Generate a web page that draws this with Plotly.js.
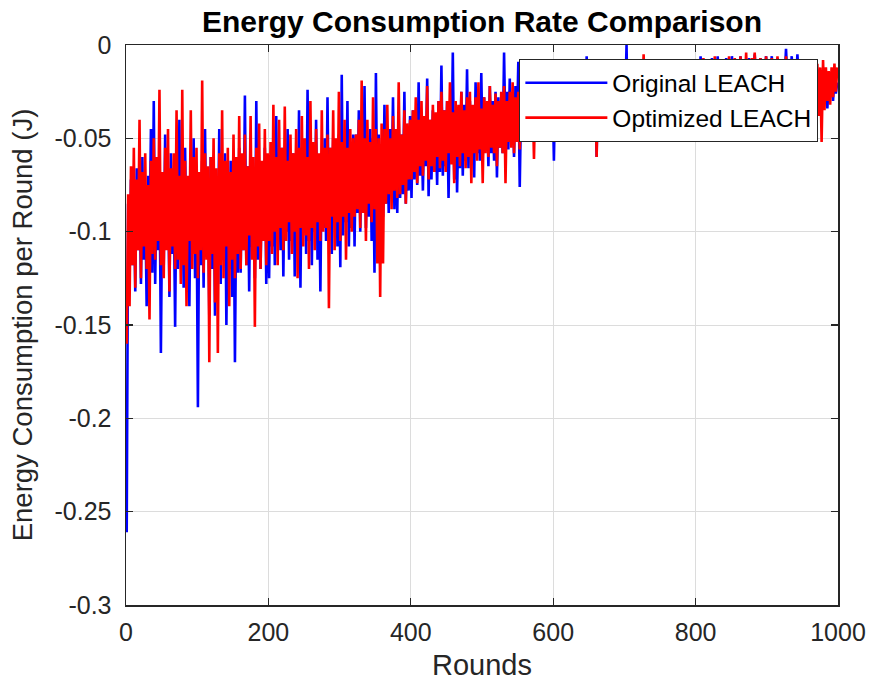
<!DOCTYPE html>
<html>
<head>
<meta charset="utf-8">
<script src="https://cdn.plot.ly/plotly-3.0.1.min.js"></script>
<style>html,body{margin:0;padding:0;background:#fff;}#chart{width:875px;height:684px;}</style>
</head>
<body>
<div id="chart"></div>
<script>
// Energy consumption per round (J), sampled every 2 rounds starting at round 1
const originalLEACH = [
-0.261,-0.085,-0.125,-0.072,-0.118,-0.080,-0.132,-0.066,-0.110,-0.075,-0.128,-0.060,-0.115,-0.082,-0.140,-0.070,-0.108,-0.045,-0.122,-0.030,
-0.128,-0.070,-0.110,-0.062,-0.165,-0.078,-0.118,-0.048,-0.105,-0.072,-0.135,-0.058,-0.112,-0.080,-0.151,-0.066,-0.120,-0.040,-0.108,-0.075,
-0.130,-0.055,-0.115,-0.075,-0.140,-0.068,-0.108,-0.050,-0.125,-0.078,-0.194,-0.070,-0.118,-0.062,-0.130,-0.045,-0.112,-0.072,-0.145,-0.060,
-0.120,-0.065,-0.145,-0.075,-0.110,-0.045,-0.128,-0.070,-0.115,-0.058,-0.150,-0.072,-0.120,-0.062,-0.135,-0.068,-0.170,-0.075,-0.122,-0.055,
-0.122,-0.068,-0.110,-0.027,-0.118,-0.065,-0.132,-0.058,-0.108,-0.072,-0.125,-0.030,-0.115,-0.062,-0.120,-0.070,-0.105,-0.055,-0.128,-0.068,
-0.125,-0.060,-0.108,-0.050,-0.118,-0.038,-0.102,-0.065,-0.110,-0.055,-0.124,-0.062,-0.100,-0.045,-0.115,-0.068,-0.105,-0.058,-0.124,-0.060,
-0.105,-0.035,-0.130,-0.060,-0.098,-0.052,-0.112,-0.024,-0.105,-0.062,-0.118,-0.055,-0.100,-0.040,-0.115,-0.065,-0.132,-0.058,-0.098,-0.050,
-0.105,-0.028,-0.098,-0.055,-0.112,-0.050,-0.095,-0.060,-0.108,-0.048,-0.119,-0.016,-0.102,-0.055,-0.095,-0.030,-0.108,-0.058,-0.098,-0.048,
-0.108,-0.048,-0.090,-0.035,-0.100,-0.052,-0.088,-0.022,-0.098,-0.055,-0.092,-0.045,-0.105,-0.050,-0.122,-0.015,-0.092,-0.048,-0.088,-0.055,
-0.092,-0.032,-0.085,-0.050,-0.090,-0.045,-0.078,-0.028,-0.088,-0.052,-0.090,-0.040,-0.082,-0.048,-0.080,-0.025,-0.085,-0.045,-0.078,-0.038,
-0.082,-0.035,-0.072,-0.040,-0.075,-0.020,-0.070,-0.042,-0.078,-0.038,-0.065,-0.018,-0.081,-0.040,-0.072,-0.035,-0.068,-0.044,-0.075,-0.030,
-0.068,-0.011,-0.070,-0.035,-0.065,-0.030,-0.082,-0.038,-0.062,-0.004,-0.072,-0.035,-0.079,-0.040,-0.066,-0.025,-0.070,-0.032,-0.062,-0.013,
-0.066,-0.030,-0.060,-0.035,-0.071,-0.020,-0.058,-0.032,-0.062,-0.015,-0.060,-0.028,-0.055,-0.034,-0.065,-0.022,-0.058,-0.030,-0.062,-0.025,
-0.071,-0.028,-0.055,-0.030,-0.058,-0.004,-0.050,-0.025,-0.056,-0.018,-0.052,-0.030,-0.060,-0.022,-0.048,-0.009,-0.076,-0.028,-0.050,-0.020,
-0.048,-0.022,-0.050,-0.025,-0.045,-0.012,-0.048,-0.028,-0.042,-0.018,-0.050,-0.025,-0.044,-0.020,-0.046,-0.012,-0.042,-0.026,-0.048,-0.022,
-0.062,-0.018,-0.040,-0.015,-0.038,-0.020,-0.042,-0.010,-0.036,-0.022,-0.040,-0.018,-0.035,-0.008,-0.042,-0.020,-0.038,-0.015,-0.036,-0.008,
-0.036,-0.018,-0.034,-0.006,-0.040,-0.018,-0.035,-0.015,-0.038,-0.020,-0.060,-0.016,-0.034,-0.012,-0.036,-0.018,-0.032,-0.014,-0.038,-0.016,
-0.035,-0.014,-0.032,-0.016,-0.038,-0.012,-0.030,-0.014,-0.034,-0.016,-0.032,0.000,-0.051,-0.015,-0.032,-0.010,-0.030,-0.016,-0.032,-0.012,
-0.030,-0.010,-0.028,-0.014,-0.035,-0.012,-0.028,-0.008,-0.030,-0.014,-0.032,-0.011,-0.028,-0.015,-0.030,-0.010,-0.027,-0.013,-0.030,-0.011,
-0.028,-0.012,-0.032,-0.009,-0.026,-0.013,-0.027,-0.010,-0.025,-0.012,-0.028,-0.010,-0.026,-0.013,-0.025,-0.009,-0.027,-0.012,-0.025,-0.011,
-0.025,-0.010,-0.022,-0.006,-0.022,-0.010,-0.028,-0.008,-0.020,-0.010,-0.024,-0.007,-0.021,-0.010,-0.022,-0.006,-0.020,-0.009,-0.024,-0.008,
-0.024,-0.007,-0.020,-0.009,-0.022,-0.006,-0.019,-0.010,-0.025,-0.008,-0.020,-0.006,-0.022,-0.009,-0.019,-0.008,-0.021,-0.007,-0.025,-0.009,
-0.020,-0.005,-0.020,-0.008,-0.018,-0.007,-0.022,-0.008,-0.018,-0.006,-0.020,-0.009,-0.018,-0.006,-0.022,-0.008,-0.019,-0.007,-0.021,-0.009,
-0.020,-0.008,-0.018,-0.002,-0.020,-0.008,-0.018,-0.006,-0.022,-0.009,-0.020,-0.005,-0.019,-0.008,-0.022,-0.010,-0.025,-0.012,-0.028,-0.014,
-0.030,-0.015,-0.032,-0.018,-0.035,-0.020,-0.030,-0.016,-0.036,-0.020,-0.030,-0.018,-0.034,-0.022,-0.028,-0.015,-0.030,-0.018,-0.026,-0.020
];

const optimizedLEACH = [
-0.160,-0.080,-0.140,-0.065,-0.118,-0.055,-0.130,-0.072,-0.110,-0.040,-0.125,-0.068,-0.108,-0.058,-0.120,-0.075,-0.147,-0.062,-0.112,-0.050,
-0.115,-0.060,-0.105,-0.024,-0.118,-0.068,-0.125,-0.055,-0.110,-0.045,-0.132,-0.066,-0.108,-0.058,-0.120,-0.035,-0.115,-0.070,-0.128,-0.024,
-0.118,-0.062,-0.140,-0.070,-0.105,-0.035,-0.120,-0.060,-0.112,-0.055,-0.125,-0.068,-0.110,-0.019,-0.122,-0.058,-0.115,-0.065,-0.170,-0.060,
-0.112,-0.050,-0.138,-0.066,-0.165,-0.058,-0.118,-0.035,-0.125,-0.062,-0.108,-0.055,-0.140,-0.068,-0.115,-0.048,-0.125,-0.060,-0.112,-0.038,
-0.120,-0.058,-0.110,-0.048,-0.118,-0.065,-0.102,-0.038,-0.115,-0.060,-0.151,-0.055,-0.108,-0.042,-0.120,-0.062,-0.105,-0.045,-0.118,-0.058,
-0.105,-0.052,-0.112,-0.032,-0.100,-0.060,-0.118,-0.040,-0.098,-0.055,-0.110,-0.033,-0.105,-0.062,-0.095,-0.048,-0.112,-0.058,-0.100,-0.045,
-0.125,-0.055,-0.098,-0.038,-0.108,-0.050,-0.102,-0.060,-0.120,-0.030,-0.098,-0.052,-0.110,-0.045,-0.095,-0.058,-0.105,-0.035,-0.100,-0.055,
-0.098,-0.048,-0.141,-0.055,-0.092,-0.035,-0.110,-0.050,-0.095,-0.025,-0.105,-0.052,-0.092,-0.040,-0.115,-0.055,-0.090,-0.045,-0.100,-0.050,
-0.092,-0.048,-0.088,-0.040,-0.098,-0.019,-0.090,-0.050,-0.105,-0.040,-0.085,-0.052,-0.095,-0.028,-0.088,-0.045,-0.117,-0.050,-0.135,-0.042,
-0.117,-0.045,-0.085,-0.032,-0.080,-0.050,-0.088,-0.038,-0.078,-0.045,-0.082,-0.020,-0.080,-0.048,-0.075,-0.035,-0.085,-0.042,-0.072,-0.040,
-0.072,-0.035,-0.068,-0.028,-0.074,-0.040,-0.065,-0.030,-0.070,-0.038,-0.062,-0.022,-0.072,-0.040,-0.065,-0.032,-0.068,-0.036,-0.060,-0.030,
-0.066,-0.025,-0.062,-0.035,-0.068,-0.030,-0.058,-0.020,-0.064,-0.036,-0.074,-0.030,-0.060,-0.032,-0.065,-0.025,-0.058,-0.035,-0.066,-0.028,
-0.060,-0.025,-0.074,-0.032,-0.058,-0.028,-0.062,-0.020,-0.056,-0.034,-0.074,-0.028,-0.058,-0.030,-0.060,-0.022,-0.055,-0.032,-0.058,-0.026,
-0.065,-0.030,-0.055,-0.025,-0.058,-0.022,-0.074,-0.030,-0.052,-0.025,-0.055,-0.020,-0.058,-0.028,-0.052,-0.025,-0.056,-0.030,-0.050,-0.024,
-0.050,-0.022,-0.048,-0.018,-0.045,-0.025,-0.061,-0.022,-0.048,-0.020,-0.045,-0.026,-0.050,-0.018,-0.046,-0.024,-0.048,-0.020,-0.044,-0.022,
-0.040,-0.018,-0.045,-0.020,-0.038,-0.015,-0.042,-0.020,-0.046,-0.018,-0.040,-0.022,-0.049,-0.015,-0.040,-0.020,-0.046,-0.018,-0.038,-0.015,
-0.038,-0.016,-0.035,-0.012,-0.040,-0.018,-0.036,-0.015,-0.042,-0.018,-0.060,-0.015,-0.038,-0.018,-0.035,-0.012,-0.040,-0.016,-0.036,-0.015,
-0.040,-0.014,-0.034,-0.010,-0.035,-0.015,-0.032,-0.012,-0.036,-0.016,-0.032,-0.010,-0.035,-0.014,-0.032,-0.012,-0.034,-0.015,-0.030,-0.012,
-0.032,-0.012,-0.030,-0.005,-0.032,-0.014,-0.030,-0.010,-0.047,-0.012,-0.030,-0.014,-0.032,-0.010,-0.030,-0.012,-0.028,-0.014,-0.032,-0.010,
-0.028,-0.010,-0.030,-0.012,-0.028,-0.008,-0.050,-0.012,-0.030,-0.010,-0.028,-0.012,-0.026,-0.008,-0.030,-0.012,-0.028,-0.010,-0.026,-0.012,
-0.025,-0.008,-0.028,-0.010,-0.024,-0.007,-0.026,-0.010,-0.022,-0.008,-0.030,-0.010,-0.024,-0.006,-0.025,-0.009,-0.022,-0.008,-0.026,-0.010,
-0.024,-0.008,-0.022,-0.006,-0.028,-0.009,-0.022,-0.007,-0.025,-0.010,-0.022,-0.006,-0.024,-0.009,-0.022,-0.004,-0.025,-0.008,-0.022,-0.007,
-0.025,-0.004,-0.022,-0.008,-0.020,-0.007,-0.024,-0.009,-0.020,-0.006,-0.024,-0.008,-0.020,-0.007,-0.022,-0.009,-0.024,-0.006,-0.020,-0.008,
-0.022,-0.008,-0.024,-0.006,-0.022,-0.009,-0.025,-0.008,-0.022,-0.010,-0.026,-0.008,-0.028,-0.010,-0.030,-0.012,-0.035,-0.010,-0.040,-0.012,
-0.035,-0.012,-0.040,-0.015,-0.032,-0.010,-0.038,-0.012,-0.052,-0.008,-0.035,-0.012,-0.030,-0.014,-0.032,-0.012,-0.028,-0.010,-0.025,-0.012
];

// Round number of each sample
const rounds = originalLEACH.map((_, i) => 1 + 2 * i);

const xTickVals = [0, 200, 400, 600, 800, 1000];
const xTickText = ["0", "200", "400", "600", "800", "1000"];
const yTickVals = [0, -0.05, -0.1, -0.15, -0.2, -0.25, -0.3];
const yTickText = ["0", "-0.05", "-0.1", "-0.15", "-0.2", "-0.25", "-0.3"];

const seriesNames = ["Original LEACH", "Optimized LEACH"];

const FONT = "Liberation Sans, Arial, sans-serif";

const traces = [
  {x: rounds, y: originalLEACH, name: seriesNames[0], type: "scatter", mode: "lines",
   line: {color: "#0000ff", width: 2.6, simplify: false}},
  {x: rounds, y: optimizedLEACH, name: seriesNames[1], type: "scatter", mode: "lines",
   line: {color: "#ff0000", width: 2.6, simplify: false}}
];

const axisCommon = {
  showline: true, mirror: "ticks", linecolor: "#262626", linewidth: 1.5,
  ticks: "inside", ticklen: 7, tickwidth: 1.2, tickcolor: "#262626",
  showgrid: true, gridcolor: "#dcdcdc", gridwidth: 1, zeroline: false,
  tickfont: {family: FONT, size: 25, color: "#262626"},
  tickmode: "array"
};

const layout = {
  width: 875, height: 684,
  paper_bgcolor: "#ffffff", plot_bgcolor: "#ffffff",
  margin: {l: 126, r: 37, t: 45, b: 79},
  showlegend: true,
  title: {text: "<b>Energy Consumption Rate Comparison</b>", font: {family: FONT, size: 30, color: "#000000"},
          x: 0.5, xref: "paper", xanchor: "center", y: 0.968, yref: "container", yanchor: "middle"},
  xaxis: Object.assign({}, axisCommon, {
    range: [0, 1000], tickvals: xTickVals, ticktext: xTickText, ticklabelstandoff: 4,
    title: {text: "Rounds", font: {family: FONT, size: 29, color: "#262626"}, standoff: 10}
  }),
  yaxis: Object.assign({}, axisCommon, {
    range: [-0.3, 0], tickvals: yTickVals, ticktext: yTickText, ticklabelstandoff: 8,
    title: {text: "Energy Consumption per Round (J)", font: {family: FONT, size: 27.5, color: "#262626"}, standoff: 14}
  }),
  legend: {
    x: 0.972, xanchor: "right", y: 0.975, yanchor: "top",
    bgcolor: "#ffffff", bordercolor: "#262626", borderwidth: 1.3,
    font: {family: FONT, size: 24.5, color: "#000000"},
    itemwidth: 82, tracegroupgap: 0
  }
};

Plotly.newPlot("chart", traces, layout, {displayModeBar: false, staticPlot: true});
</script>
</body>
</html>
